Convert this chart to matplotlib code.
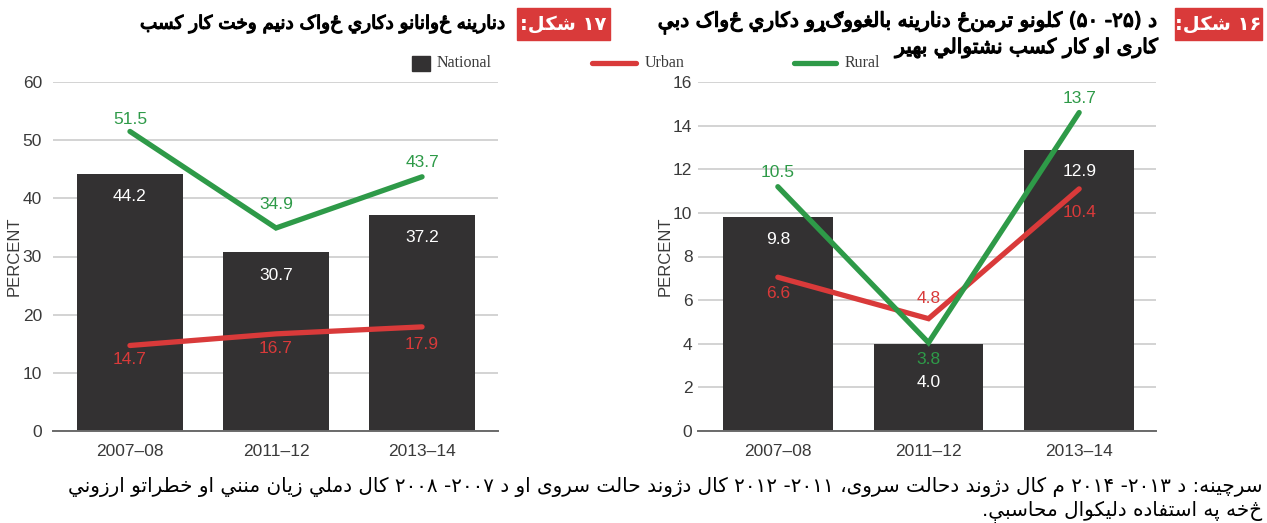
import re

import matplotlib

matplotlib.use("Agg")
import matplotlib.pyplot as plt  # noqa: E402
import matplotlib.patheffects as pe  # noqa: E402
from matplotlib import font_manager  # noqa: E402
from matplotlib.lines import Line2D  # noqa: E402
from matplotlib.patches import Rectangle  # noqa: E402
import numpy as np  # noqa: E402

# ---------------------------------------------------------------------------
# Data
# ---------------------------------------------------------------------------

periods = ["2007–08", "2011–12", "2013–14"]

# figure 17 (left panel)
youth_national = [44.2, 30.7, 37.2]
youth_urban = [14.7, 16.7, 17.9]
youth_rural = [51.5, 34.9, 43.7]

# figure 16 (right panel): printed values
adult_national = [9.8, 4.0, 12.9]
adult_urban = [6.6, 4.8, 10.4]
adult_rural = [10.5, 3.8, 13.7]
# where the lines sit in the source picture (drawn a little above the labels)
adult_urban_line = [7.05, 5.15, 11.1]
adult_rural_line = [11.2, 4.05, 14.6]

left_tag = "۱۷ شکل:"
left_title = "دنارینه ځوانانو دکاري ځواک دنیم وخت کار کسب"
right_tag = "۱۶ شکل:"
right_title = [
    "د (۲۵- ۵۰) کلونو ترمنځ دنارینه بالغووګړو دکاري ځواک دبې",
    "کارۍ او کار کسب نشتوالي بهیر",
]
source_lines = [
    "سرچینه: د ۲۰۱۳- ۲۰۱۴ م کال دژوند دحالت سروی، ۲۰۱۱- ۲۰۱۲ کال دژوند حالت سروی"
    " او د ۲۰۰۷- ۲۰۰۸ کال دملي زيان منني او خطراتو ارزوني",
    "څخه په استفاده دليکوال محاسبې.",
]

NAVY = "#333132"
RED = "#d93a3a"
GREEN = "#2e9a48"
TXT = "#3a3a3a"

# ---------------------------------------------------------------------------
# Tiny Arabic-script shaper (matplotlib has no complex text layout)
# ---------------------------------------------------------------------------

# char -> (first presentation form, number of forms); 4 = dual, 2 = right joining
_FORMS = {
    "ا": (0xFE8D, 2), "ب": (0xFE8F, 4), "ت": (0xFE95, 4), "ث": (0xFE99, 4),
    "ج": (0xFE9D, 4), "ح": (0xFEA1, 4), "خ": (0xFEA5, 4), "د": (0xFEA9, 2),
    "ذ": (0xFEAB, 2), "ر": (0xFEAD, 2), "ز": (0xFEAF, 2), "س": (0xFEB1, 4),
    "ش": (0xFEB5, 4), "ص": (0xFEB9, 4), "ض": (0xFEBD, 4), "ط": (0xFEC1, 4),
    "ظ": (0xFEC5, 4), "ع": (0xFEC9, 4), "غ": (0xFECD, 4), "ف": (0xFED1, 4),
    "ق": (0xFED5, 4), "ك": (0xFED9, 4), "ل": (0xFEDD, 4), "م": (0xFEE1, 4),
    "ن": (0xFEE5, 4), "ه": (0xFEE9, 4), "و": (0xFEED, 2), "ي": (0xFEF1, 4),
    "ک": (0xFB8E, 4), "گ": (0xFB92, 4), "پ": (0xFB56, 4), "چ": (0xFB7A, 4),
    "ژ": (0xFB8A, 2), "ی": (0xFBFC, 4), "ې": (0xFBE4, 4),
}
_RAW_RIGHT = set("ړډږ")  # right joining, no presentation forms
# no installed font carries yeh-with-tail; its nearest drawable form is plain yeh
_STANDIN = {"ۍ": "ی"}


def _jtype(ch):
    if ch in _FORMS:
        return "D" if _FORMS[ch][1] == 4 else "R"
    if ch in _RAW_RIGHT:
        return "R"
    return "U"


def shape(text):
    text = "".join(_STANDIN.get(c, c) for c in text)
    out = []
    i = 0
    n = len(text)
    while i < n:
        ch = text[i]
        prev = text[i - 1] if i > 0 else " "
        nxt = text[i + 1] if i + 1 < n else " "
        jt = _jtype(ch)
        join_prev = jt in "DR" and _jtype(prev) == "D"
        if ch == "ل" and nxt == "ا":
            out.append(chr(0xFEFC if join_prev else 0xFEFB))
            i += 2
            continue
        join_next = jt == "D" and _jtype(nxt) in "DR"
        if ch in _FORMS:
            base, cnt = _FORMS[ch]
            if cnt == 4:
                idx = {(False, False): 0, (True, False): 1,
                       (False, True): 2, (True, True): 3}[(join_prev, join_next)]
            else:
                idx = 1 if join_prev else 0
            out.append(chr(base + idx))
        else:
            out.append(ch)
        i += 1
    return "".join(out)


def rtl(text):
    toks = re.findall(r"[0-9\u06F0-\u06F9]+|.", shape(text))
    vis = "".join(reversed(toks))
    return vis.translate(str.maketrans("()", ")("))


def pick_font(names):
    for name in names:
        try:
            font_manager.findfont(name, fallback_to_default=False)
            return name
        except Exception:
            continue
    return "DejaVu Sans"


NARROW = pick_font(["Liberation Sans Narrow", "Arial Narrow", "Liberation Sans"])
SANS = pick_font(["Liberation Sans", "DejaVu Sans"])
SERIF = pick_font(["Liberation Serif", "DejaVu Serif"])
ARABIC = ["DejaVu Sans"]
# regular weight has the wider Pashto coverage, so fake the bold with a stroke
BOLDISH = [pe.withStroke(linewidth=0.9, foreground="black")]

# ---------------------------------------------------------------------------
# Figure
# ---------------------------------------------------------------------------

W, H = 1267, 523
fig = plt.figure(figsize=(W / 100, H / 100), dpi=100)
fig.patch.set_facecolor("white")


def fx(px):
    return px / W


def fy(py):
    return 1 - py / H


def panel(rect, national, urban, rural, urban_line, rural_line, ymax, step,
          xlim, width, tick_pad, off_bar, off_urban, off_rural, ylab_x):
    ax = fig.add_axes(rect)
    xs = np.arange(len(periods))
    ax.bar(xs, national, width=width, color=NAVY, zorder=2)
    ax.plot(xs, urban_line, color=RED, lw=3.8, solid_capstyle="round",
            solid_joinstyle="miter", zorder=3)
    ax.plot(xs, rural_line, color=GREEN, lw=3.8, solid_capstyle="round",
            solid_joinstyle="miter", zorder=4)

    for x, v, o in zip(xs, national, off_bar):
        ax.annotate(f"{v:.1f}", (x, v), xytext=(0, o), textcoords="offset pixels",
                    ha="center", va="center", color="white", fontsize=12.5,
                    family=NARROW, zorder=5)
    for x, v, yv, o in zip(xs, urban, urban_line, off_urban):
        ax.annotate(f"{v:.1f}", (x, yv), xytext=(0, o), textcoords="offset pixels",
                    ha="center", va="center", color=RED, fontsize=12.5,
                    family=NARROW, zorder=5)
    for x, v, yv, o in zip(xs, rural, rural_line, off_rural):
        ax.annotate(f"{v:.1f}", (x, yv), xytext=(0, o), textcoords="offset pixels",
                    ha="center", va="center", color=GREEN, fontsize=12.5,
                    family=NARROW, zorder=5)

    ax.set_xlim(*xlim)
    ax.set_ylim(0, ymax)
    ax.set_yticks(np.arange(0, ymax + step / 2, step))
    ax.set_xticks(xs)
    ax.set_xticklabels(periods)
    ax.grid(axis="y", color="#c8c8c8", lw=1.1, zorder=0)
    ax.set_axisbelow(True)
    for side in ("left", "right", "top"):
        ax.spines[side].set_visible(False)
    ax.spines["bottom"].set_color("#6a6a6a")
    ax.spines["bottom"].set_linewidth(1.4)
    ax.spines["bottom"].set_zorder(6)
    ax.tick_params(axis="y", length=0, pad=tick_pad, labelsize=12.5, labelcolor=TXT)
    ax.tick_params(axis="x", length=0, pad=9, labelsize=12.5, labelcolor=TXT)
    for lab in ax.get_xticklabels() + ax.get_yticklabels():
        lab.set_family(NARROW)
    fig.text(fx(ylab_x), 0.5 * (rect[1] + rect[1] + rect[3]), "PERCENT",
             rotation=90, ha="center", va="center", fontsize=12, color=TXT,
             family=SANS)
    return ax


bottom = fy(431)
height = fy(82) - bottom

panel([fx(53), bottom, fx(498) - fx(53), height],
      youth_national, youth_urban, youth_rural, youth_urban, youth_rural,
      60, 10, (-0.527, 2.52), 0.726, 8,
      off_bar=[-23, -23, -23], off_urban=[-14, -15, -18],
      off_rural=[12, 23, 14], ylab_x=14)

panel([fx(698), bottom, fx(1156) - fx(698), height],
      adult_national, adult_urban, adult_rural, adult_urban_line, adult_rural_line,
      16, 2, (-0.53, 2.51), 0.73, 4,
      off_bar=[-22, -39, -22], off_urban=[-16, 20, -24],
      off_rural=[14, -17, 14], ylab_x=665)

# legend (drawn by hand, centred above the panels)
ly = fy(63)
fig.add_artist(Rectangle((fx(412), fy(71)), fx(18), fy(56) - fy(71),
                         transform=fig.transFigure, color=NAVY))
fig.text(fx(437), ly, "National", va="center", ha="left", fontsize=11.5,
         family=SERIF, color=TXT)
fig.add_artist(Line2D([fx(592), fx(636)], [ly, ly], transform=fig.transFigure,
                      color=RED, lw=3.8, solid_capstyle="round"))
fig.text(fx(645), ly, "Urban", va="center", ha="left", fontsize=11.5,
         family=SERIF, color=TXT)
fig.add_artist(Line2D([fx(794), fx(836)], [ly, ly], transform=fig.transFigure,
                      color=GREEN, lw=3.8, solid_capstyle="round"))
fig.text(fx(845), ly, "Rural", va="center", ha="left", fontsize=11.5,
         family=SERIF, color=TXT)

# titles
renderer = fig.canvas.get_renderer()


def fit(txt, width_px):
    w = txt.get_window_extent(renderer).width
    txt.set_fontsize(txt.get_fontsize() * width_px / w)
    return txt.get_fontsize()


for x0, x1, tag in ((517, 610, left_tag), (1175, 1262, right_tag)):
    fig.add_artist(Rectangle((fx(x0), fy(40)), fx(x1 - x0), fy(8) - fy(40),
                             transform=fig.transFigure, color=RED))
    fig.text(fx((x0 + x1) / 2), fy(24), rtl(tag), ha="center", va="center",
             fontsize=14, fontweight="bold", color="white", family=ARABIC)

t = fig.text(fx(505), fy(24), rtl(left_title), ha="right", va="center",
             fontsize=14, color="black", family=ARABIC, path_effects=BOLDISH)
fit(t, 368)

t1 = fig.text(fx(1160), fy(23), rtl(right_title[0]), ha="right", va="center",
              fontsize=14, color="black", family=ARABIC, path_effects=BOLDISH)
fs = fit(t1, 503)
fig.text(fx(1160), fy(48), rtl(right_title[1]), ha="right", va="center",
         fontsize=fs, color="black", family=ARABIC, path_effects=BOLDISH)

# source note
s1 = fig.text(fx(1262), fy(487), rtl(source_lines[0]), ha="right", va="center",
              fontsize=12, color="black", family=ARABIC)
fs = fit(s1, 1190)
fig.text(fx(1262), fy(512), rtl(source_lines[1]), ha="right", va="center",
         fontsize=fs, color="black", family=ARABIC)

fig.savefig("out.png", dpi=100, facecolor="white")
